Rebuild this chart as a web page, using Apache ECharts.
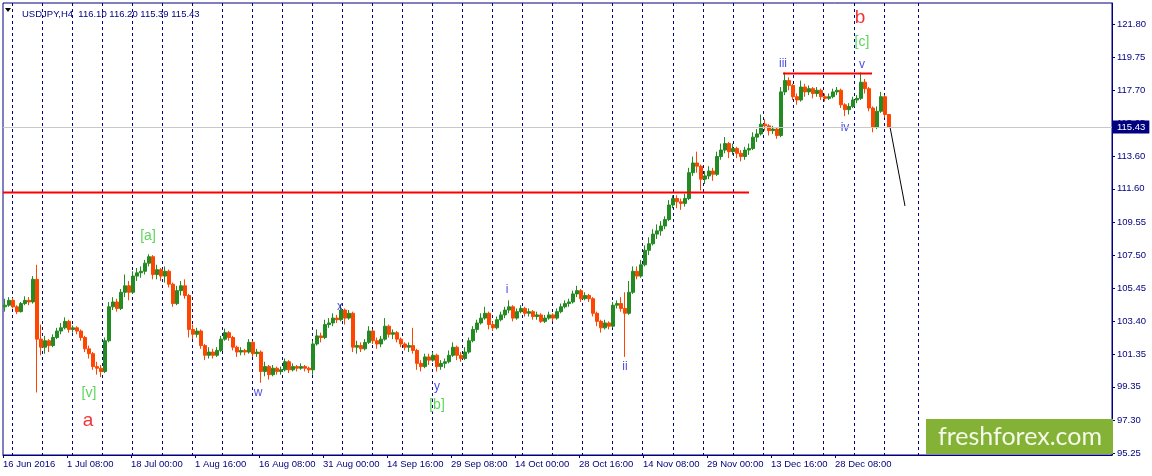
<!DOCTYPE html>
<html><head><meta charset="utf-8">
<script src="https://cdn.jsdelivr.net/npm/echarts@6/dist/echarts.min.js"></script>
<style>html,body{margin:0;padding:0;background:#fff}#c{width:1152px;height:476px}</style>
</head><body><div id="c"></div>
<script>
// ---- data ----
const symbolName = 'USDJPY,H4';
const lastBar = [116.10, 116.20, 115.39, 115.43]; // O H L C of last H4 bar
const timeLabels = ['16 Jun 2016','1 Jul 08:00','18 Jul 00:00','1 Aug 16:00','16 Aug 08:00','31 Aug 00:00','14 Sep 16:00','29 Sep 08:00','14 Oct 00:00','28 Oct 16:00','14 Nov 08:00','29 Nov 00:00','13 Dec 16:00','28 Dec 08:00'];
const labelStep = 64;      // H4 bars between time labels
const totalBars = 1110;    // H4 bar slots across the chart window
const weekStarts = [9,39,69,99,129,159,189,219,249,279,309,339,369,399,429,459,489,519,549,579,609,639,670,700,730,760,790,820,851,881,915];
const yTickLabels = ['121.80','119.75','117.70','115.65','113.60','111.60','109.55','107.50','105.45','103.40','101.35','99.35','97.30','95.25'];
const barsPerCandle = 4;   // each candle below aggregates 4 H4 bars
// [open, close, low, high]
const candles = [
[104.30,104.40,104.00,104.80],[104.40,104.70,104.30,104.90],[104.70,104.30,104.20,104.85],[104.30,104.00,103.85,104.40],
[104.00,104.50,103.95,104.60],[104.50,104.70,104.40,104.95],[104.70,104.60,104.40,104.90],[104.60,106.00,104.50,106.20],
[106.00,102.30,99.00,106.90],[102.30,101.80,101.30,103.20],[101.80,102.20,101.40,102.50],[102.20,101.90,101.50,102.30],
[101.90,102.40,101.80,102.60],[102.40,102.80,102.30,103.00],[102.80,103.00,102.60,103.30],[103.00,103.40,102.90,103.65],
[103.40,102.90,102.70,103.50],[102.90,103.00,102.70,103.15],[103.00,102.80,102.60,103.10],[102.80,102.40,102.20,102.90],
[102.40,101.70,101.50,102.50],[101.70,101.40,101.10,101.90],[101.40,100.60,100.40,101.50],[100.60,100.50,100.10,100.90],
[100.50,100.30,99.95,100.70],[100.30,102.20,100.20,102.40],[102.20,104.30,102.10,104.60],[104.30,104.60,104.10,104.90],
[104.60,104.20,104.00,104.80],[104.20,105.20,104.10,105.40],[105.20,105.60,104.90,106.30],[105.60,105.20,104.70,105.90],
[105.20,106.20,105.10,106.50],[106.20,106.40,105.90,106.70],[106.40,106.50,106.10,106.80],[106.50,107.00,106.30,107.20],
[107.00,107.40,106.80,107.55],[107.40,106.30,106.00,107.50],[106.30,106.60,106.00,106.90],[106.60,106.20,105.90,106.70],
[106.20,106.50,105.80,106.80],[106.50,105.70,105.50,106.60],[105.70,104.50,104.30,105.80],[104.50,105.30,104.40,105.60],
[105.30,105.60,105.00,105.90],[105.60,105.00,104.80,106.00],[105.00,102.90,102.40,105.10],[102.90,102.60,102.30,103.20],
[102.60,102.80,102.40,103.00],[102.80,101.90,101.70,102.90],[101.90,101.30,101.00,102.00],[101.30,101.50,101.10,101.80],
[101.50,101.30,101.10,101.70],[101.30,101.60,101.20,101.80],[101.60,102.30,101.50,102.50],[102.30,102.70,102.20,102.95],
[102.70,102.40,102.20,102.80],[102.40,101.80,101.60,102.50],[101.80,101.50,101.20,101.90],[101.50,101.60,101.30,101.80],
[101.60,101.50,101.30,101.70],[101.50,102.10,101.40,102.30],[102.10,101.40,101.20,102.20],[101.40,101.50,101.20,101.70],
[101.50,100.30,99.60,101.60],[100.30,100.60,100.00,100.90],[100.60,100.10,99.80,100.70],[100.10,100.50,100.00,100.70],
[100.50,100.30,100.10,100.60],[100.30,100.40,100.10,100.60],[100.40,100.90,100.30,101.10],[100.90,100.40,100.20,101.00],
[100.40,100.60,100.30,100.80],[100.60,100.50,100.30,100.70],[100.50,100.60,100.40,100.80],[100.60,100.50,100.30,100.70],
[100.50,100.40,100.20,100.60],[100.40,102.00,100.10,102.20],[102.00,102.50,101.90,102.90],[102.50,102.40,102.10,102.70],
[102.40,103.20,102.30,103.50],[103.20,103.30,103.00,103.60],[103.30,103.60,103.10,103.90],[103.60,103.50,103.30,103.80],
[103.50,104.10,103.40,104.45],[104.10,103.60,103.20,104.20],[103.60,103.90,103.50,104.10],[103.90,101.80,101.50,104.00],
[101.80,101.90,101.40,102.20],[101.90,101.70,101.50,102.10],[101.70,102.10,101.60,102.30],[102.10,102.80,102.00,103.10],
[102.80,102.20,102.00,102.90],[102.20,102.00,101.70,102.40],[102.00,102.30,101.80,102.50],[102.30,103.10,102.20,103.60],
[103.10,102.60,102.40,103.20],[102.60,102.70,102.30,102.90],[102.70,102.30,102.10,102.80],[102.30,102.00,101.80,102.40],
[102.00,101.80,101.60,102.10],[101.80,101.90,101.50,102.10],[101.90,101.60,101.40,103.00],[101.60,100.80,100.40,101.70],
[100.80,100.60,100.30,101.00],[100.60,101.20,100.50,101.40],[101.20,101.00,100.70,101.40],[101.00,101.30,100.90,101.50],
[101.30,100.60,100.30,101.40],[100.60,100.80,100.40,101.00],[100.80,100.90,100.50,101.10],[100.90,101.30,100.80,101.60],
[101.30,101.80,101.20,102.10],[101.80,101.30,101.00,101.90],[101.30,101.10,100.90,101.50],[101.10,101.50,101.00,101.80],
[101.50,102.20,101.40,102.40],[102.20,102.90,102.10,103.10],[102.90,103.30,102.70,103.50],[103.30,103.60,103.20,103.90],
[103.60,103.90,103.50,104.30],[103.90,103.20,102.90,104.00],[103.20,103.00,102.80,103.40],[103.00,103.50,102.90,103.70],
[103.50,103.80,103.40,104.00],[103.80,104.10,103.60,104.30],[104.10,104.30,103.90,104.70],[104.30,103.60,103.40,104.40],
[103.60,104.00,103.50,104.20],[104.00,104.20,103.90,104.40],[104.20,103.90,103.70,104.30],[103.90,104.00,103.70,104.20],
[104.00,103.70,103.50,104.10],[103.70,103.80,103.50,104.00],[103.80,103.40,103.30,103.90],[103.40,103.60,103.30,103.80],
[103.60,103.80,103.50,104.00],[103.80,103.60,103.40,103.90],[103.60,104.00,103.50,104.20],[104.00,104.30,103.90,104.50],
[104.30,104.50,104.20,104.70],[104.50,104.60,104.30,104.80],[104.60,105.10,104.50,105.30],[105.10,105.30,104.90,105.60],
[105.30,104.80,104.60,105.40],[104.80,105.00,104.70,105.20],[105.00,104.80,104.60,105.10],[104.80,103.90,103.70,104.90],
[103.90,103.40,103.10,104.00],[103.40,103.00,102.70,103.50],[103.00,103.30,102.90,103.50],[103.30,103.10,102.90,103.40],
[103.10,104.40,103.00,104.60],[104.40,104.50,104.20,104.70],[104.50,104.20,104.00,104.90],[104.20,103.90,101.20,105.20],
[103.90,105.20,103.80,105.90],[105.20,106.50,105.10,106.80],[106.50,106.20,106.00,106.80],[106.20,106.90,106.10,107.20],
[106.90,107.80,106.80,108.10],[107.80,108.20,107.50,108.60],[108.20,108.80,108.10,109.10],[108.80,109.00,108.50,109.40],
[109.00,109.30,108.70,109.60],[109.30,109.70,109.10,109.90],[109.70,110.60,109.60,110.90],[110.60,111.00,110.40,111.20],
[111.00,110.80,110.40,111.20],[110.80,110.70,110.30,111.00],[110.70,111.00,110.50,111.30],[111.00,112.60,110.90,112.90],
[112.60,113.20,112.40,113.60],[113.20,113.00,112.60,113.90],[113.00,112.20,111.50,113.10],[112.20,112.40,111.90,112.70],
[112.40,112.70,112.20,113.00],[112.70,112.50,112.10,112.90],[112.50,113.60,112.40,113.90],[113.60,114.00,113.40,114.40],
[114.00,114.40,113.80,114.80],[114.40,113.90,113.50,114.50],[113.90,114.10,113.70,114.40],[114.10,113.80,113.50,114.20],
[113.80,113.60,113.30,114.00],[113.60,114.00,113.40,114.20],[114.00,114.10,113.70,114.40],[114.10,114.80,114.00,115.10],
[114.80,115.00,114.50,115.30],[115.00,115.60,114.90,116.20],[115.60,115.50,115.20,115.90],[115.50,115.20,114.90,115.60],
[115.20,115.30,115.00,115.50],[115.30,114.90,114.70,115.40],[114.90,117.60,114.80,117.90],[117.60,118.30,117.40,118.80],
[118.30,118.00,117.70,118.50],[118.00,117.30,117.10,118.10],[117.30,117.10,116.80,117.50],[117.10,117.90,117.00,118.30],
[117.90,117.60,117.30,118.10],[117.60,117.80,117.40,118.00],[117.80,117.50,117.20,117.90],[117.50,117.70,117.30,117.90],
[117.70,117.30,117.10,117.80],[117.30,117.20,117.00,117.50],[117.20,117.30,117.10,117.50],[117.30,117.60,117.20,117.80],
[117.60,117.70,117.40,117.90],[117.70,116.80,116.60,117.80],[116.80,116.50,116.10,116.90],[116.50,116.70,116.20,116.90],
[116.70,117.10,116.60,117.30],[117.10,117.20,116.90,117.40],[117.20,118.20,117.10,118.80],[118.20,117.80,117.50,118.40],
[117.80,116.60,116.40,117.90],[116.60,115.40,115.10,116.70],[115.40,116.40,115.30,116.70],[116.40,117.30,116.30,117.60],
[117.30,116.20,116.00,117.40],[116.20,115.43,115.39,116.20]
];
// drawn lines: [barIndex, price]
const supportLine = [[0,111.38],[746,111.38]];
const topLine = [[780,118.74],[869,118.74]];
const projection = [[887,115.43],[902,110.54]];
// wave labels
const waveText  = ['[a]','[v]','a','w','x','y','[b]','i','ii','iii','iv','v','[c]','b'];
const waveBar   = [145,86,85,255,337,434,434,504,622,780,842,859,859,857];
const wavePrice = [108.68,98.97,97.23,98.97,104.29,99.34,98.22,105.34,100.57,119.32,115.36,119.26,120.69,122.17];
const waveKind  = ['g','g','r','b','b','b','g','b','b','b','b','b','g','r'];

// ---- build ----
const cats = Array.from({length: totalBars}, (_, i) => String(i));
const candleRows = candles.map((c, k) => [k * barsPerCandle + 2, c[0], c[1], c[2], c[3]]);
const yTicks = yTickLabels.map(Number);
const isLabelIdx = (i) => i % labelStep === 0 && (i / labelStep) < timeLabels.length;
const isWeekIdx = (i) => weekStarts.indexOf(i) >= 0;
const kindStyle = {
  b: {color: '#2020d8', fontSize: 12},
  g: {color: '#33cc33', fontSize: 14},
  r: {color: '#f00000', fontSize: 19}
};
const waveData = waveText.map((t, i) => ({
  value: [waveBar[i], wavePrice[i]],
  label: Object.assign({show: true, position: 'inside', formatter: t, fontFamily: 'Liberation Sans'}, kindStyle[waveKind[i]])
}));
const FONT = 'Liberation Sans';
const NAVY = '#000080';
const FS = 9.5;

const chart = echarts.init(document.getElementById('c'), null, {renderer: 'canvas'});
chart.setOption({
  animation: false,
  backgroundColor: '#ffffff',
  title: {
    text: symbolName + '  ' + lastBar.map(v => v.toFixed(2)).join(' '),
    left: 17, top: 4,
    textStyle: {fontSize: FS, fontWeight: 'normal', color: NAVY, fontFamily: FONT}
  },
  grid: {left: 3, right: 40, top: 3, bottom: 21, show: true, borderColor: NAVY, borderWidth: 1},
  xAxis: {
    type: 'category', data: cats, boundaryGap: false,
    axisLine: {show: true, lineStyle: {color: NAVY, width: 1}},
    axisTick: {show: true, interval: isLabelIdx, length: 3, lineStyle: {color: NAVY}},
    axisLabel: {interval: isLabelIdx, formatter: (v, i) => timeLabels[Math.round(i / labelStep)] || '',
      align: 'left', color: NAVY, fontSize: FS, fontFamily: FONT, margin: 4},
    splitLine: {show: true, interval: isWeekIdx, lineStyle: {color: NAVY, type: [3, 3], width: 1}}
  },
  yAxis: {
    type: 'value', position: 'right', min: 95.13, max: 123.10,
    splitLine: {show: false},
    axisLine: {show: true, lineStyle: {color: NAVY}},
    axisTick: {show: true, customValues: yTicks, length: 3, lineStyle: {color: NAVY}},
    axisLabel: {customValues: yTicks, formatter: v => v.toFixed(2), color: NAVY, fontSize: FS, fontFamily: FONT, margin: 5}
  },
  graphic: [
    {type: 'polygon', shape: {points: [[5, 8], [11, 8], [8, 12]]}, style: {fill: '#000'}},
    {type: 'rect', shape: {x: 926, y: 419, width: 187, height: 35}, style: {fill: '#84b236'}, z: 10},
    {type: 'text', x: 1020, y: 437, style: {text: 'freshforex.com', fill: '#f4f9ea', font: '25px Lato', textAlign: 'center', textVerticalAlign: 'middle'}, z: 11}
  ],
  series: [
    {
      type: 'candlestick', data: candleRows, encode: {x: 0, y: [1, 2, 3, 4]},
      large: false, barWidth: 3,
      itemStyle: {color: '#228B22', color0: '#FF4500', borderColor: '#228B22', borderColor0: '#FF4500', borderWidth: 1},
      markLine: {
        silent: true, symbol: ['none', 'none'],
        data: [{yAxis: lastBar[3]}],
        lineStyle: {color: '#c8c8c8', type: 'solid', width: 1},
        label: {position: 'end', distance: 1, formatter: lastBar[3].toFixed(2), backgroundColor: NAVY, color: '#ffffff',
          fontSize: FS, fontFamily: FONT, padding: [2, 4, 1, 4]}
      }
    },
    {type: 'line', data: supportLine, symbol: 'none', lineStyle: {color: '#ff0000', width: 2}, silent: true},
    {type: 'line', data: topLine, symbol: 'none', lineStyle: {color: '#ff0000', width: 2}, silent: true},
    {type: 'line', data: projection, symbol: 'none', lineStyle: {color: '#000000', width: 1}, silent: true},
    {type: 'scatter', data: waveData, symbolSize: 1, itemStyle: {color: 'rgba(0,0,0,0)'}, silent: true}
  ]
});
</script>
</body></html>
